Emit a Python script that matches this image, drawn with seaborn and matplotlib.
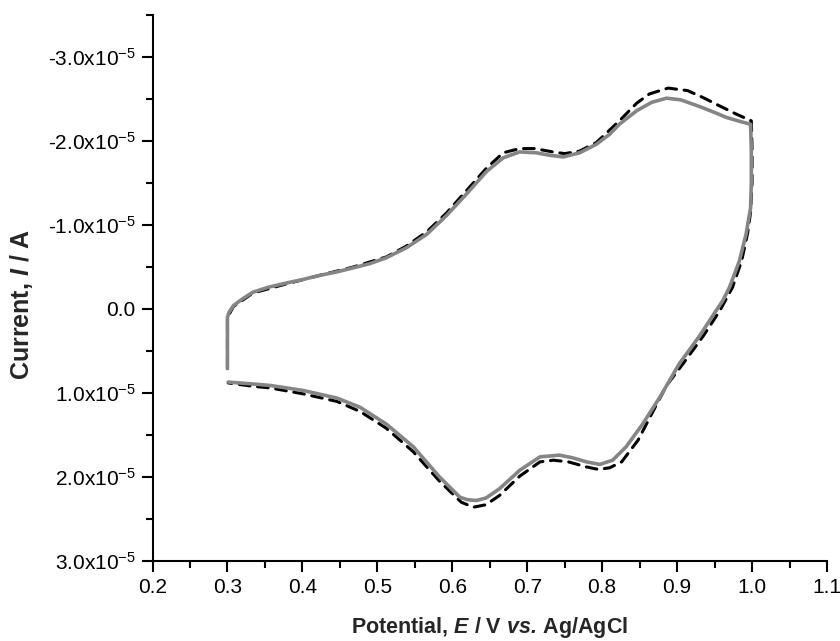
import numpy as np
import pandas as pd
import seaborn as sns
import matplotlib
matplotlib.use("Agg")
import matplotlib.pyplot as plt
from matplotlib.ticker import MultipleLocator

# ---- data (current in units of 1e-5 A) ----
gray_E = [0.300, 0.300, 0.300, 0.302, 0.308, 0.320, 0.334, 0.355, 0.379, 0.400,
          0.423, 0.445, 0.468, 0.490, 0.512, 0.539, 0.566, 0.592, 0.619, 0.646,
          0.668, 0.690, 0.712, 0.730, 0.748, 0.770, 0.792, 0.810, 0.823, 0.846,
          0.866, 0.886, 0.905, 0.930, 0.950, 0.966, 0.985, 0.998, 0.999, 0.999,
          0.998, 0.995, 0.992, 0.983, 0.970, 0.961, 0.952, 0.930, 0.917, 0.903,
          0.877, 0.854, 0.832, 0.814, 0.797, 0.779, 0.760, 0.743, 0.717, 0.690,
          0.663, 0.645, 0.632, 0.620, 0.610, 0.583, 0.548, 0.512, 0.477, 0.446,
          0.401, 0.357, 0.330, 0.301]
gray_I = [0.71, 0.40, 0.10, 0.04, -0.04, -0.12, -0.20, -0.26, -0.31, -0.35,
          -0.40, -0.44, -0.49, -0.54, -0.61, -0.73, -0.89, -1.11, -1.37, -1.64,
          -1.80, -1.87, -1.86, -1.83, -1.81, -1.86, -1.96, -2.08, -2.20, -2.36,
          -2.46, -2.51, -2.49, -2.41, -2.34, -2.28, -2.23, -2.20, -1.90, -1.50,
          -1.20, -1.05, -0.89, -0.57, -0.26, -0.10, 0.02, 0.32, 0.48, 0.65,
          1.05, 1.37, 1.64, 1.80, 1.85, 1.82, 1.77, 1.74, 1.76, 1.92,
          2.14, 2.25, 2.28, 2.27, 2.24, 2.00, 1.64, 1.37, 1.17, 1.06,
          0.97, 0.91, 0.89, 0.87]

dash_E = [0.300, 0.300, 0.308, 0.334, 0.379, 0.423, 0.468, 0.512, 0.539, 0.566,
          0.592, 0.619, 0.646, 0.668, 0.690, 0.710, 0.734, 0.750, 0.770, 0.792,
          0.823, 0.846, 0.863, 0.888, 0.914, 0.934, 0.954, 0.979, 0.999, 1.000,
          1.000, 0.998, 0.994, 0.986, 0.974, 0.957, 0.935, 0.908, 0.886, 0.866,
          0.848, 0.826, 0.810, 0.795, 0.779, 0.755, 0.735, 0.717, 0.690, 0.663,
          0.645, 0.628, 0.612, 0.583, 0.548, 0.512, 0.477, 0.446, 0.401, 0.357,
          0.334, 0.301]
dash_I = [0.70, 0.10, -0.03, -0.19, -0.30, -0.40, -0.50, -0.62, -0.75, -0.92,
          -1.14, -1.41, -1.68, -1.86, -1.91, -1.91, -1.87, -1.85, -1.88, -1.98,
          -2.24, -2.45, -2.56, -2.63, -2.60, -2.52, -2.43, -2.32, -2.24, -1.90,
          -1.50, -1.15, -0.90, -0.57, -0.26, 0.02, 0.32, 0.65, 0.91, 1.25,
          1.56, 1.82, 1.89, 1.91, 1.88, 1.82, 1.80, 1.82, 1.99, 2.22,
          2.33, 2.36, 2.30, 2.05, 1.70, 1.42, 1.22, 1.10, 1.01, 0.94,
          0.92, 0.88]

x_ticks = [0.2, 0.3, 0.4, 0.5, 0.6, 0.7, 0.8, 0.9, 1.0, 1.1]
x_ticklabels = ["0.2", "0.3", "0.4", "0.5", "0.6", "0.7", "0.8", "0.9", "1.0", "1.1"]
y_ticks = [-3.0e-5, -2.0e-5, -1.0e-5, 0.0, 1.0e-5, 2.0e-5, 3.0e-5]
y_ticklabels = [r"-3.0x10$^{-5}$", r"-2.0x10$^{-5}$", r"-1.0x10$^{-5}$", "0.0",
                r"1.0x10$^{-5}$", r"2.0x10$^{-5}$", r"3.0x10$^{-5}$"]

SCALE = 1e-5
dash_df = pd.DataFrame({"E": dash_E, "I": np.array(dash_I) * SCALE})
gray_df = pd.DataFrame({"E": gray_E, "I": np.array(gray_I) * SCALE})

sns.set_style("ticks")
plt.rcParams["font.family"] = ["Liberation Sans", "DejaVu Sans"]
plt.rcParams["mathtext.fontset"] = "custom"
plt.rcParams["mathtext.rm"] = "Liberation Sans"
plt.rcParams["mathtext.it"] = "Liberation Sans:italic"
plt.rcParams["mathtext.bf"] = "Liberation Sans:bold"
plt.rcParams["mathtext.bfit"] = "Liberation Sans:italic:bold"

fig = plt.figure(figsize=(8.4, 6.41), dpi=100)
ax = fig.add_axes([152.5 / 840, (641 - 561) / 641, (827 - 152.5) / 840, (561 - 15) / 641])

sns.lineplot(data=dash_df, x="E", y="I", sort=False, estimator=None, ax=ax,
             color="black", linewidth=2.2)
ax.lines[-1].set_linestyle((0, (3.5, 2.5)))
ax.lines[-1].set_dash_capstyle("round")
sns.lineplot(data=gray_df, x="E", y="I", sort=False, estimator=None, ax=ax,
             color="#858585", linewidth=2.6)

ax.set_xlim(0.2, 1.1)
ax.set_ylim(3.0e-5, -3.5e-5)
ax.set_xticks(x_ticks)
ax.set_xticklabels(x_ticklabels)
ax.set_yticks(y_ticks)
ax.set_yticklabels(y_ticklabels)
ax.xaxis.set_minor_locator(MultipleLocator(0.05))
ax.yaxis.set_minor_locator(MultipleLocator(0.5e-5))

for s in ["top", "right"]:
    ax.spines[s].set_visible(False)
for s in ["left", "bottom"]:
    ax.spines[s].set_linewidth(1.5)
    ax.spines[s].set_color("black")
ax.tick_params(which="major", direction="out", length=8, width=1.5, labelsize=15,
               colors="black", pad=4)
ax.tick_params(which="minor", direction="out", length=5, width=1.5, colors="black")

ax.set_xlabel(r"Potential, $\mathbfit{E}$ / V $\mathbfit{vs.}\,$Ag/AgCl",
              fontsize=15.5, fontweight="bold", va="center")
ax.set_ylabel(r"Current, $\mathbfit{I}$ / A", fontsize=18, fontweight="bold",
              va="center")
ax.xaxis.set_label_coords(0.5, -(627 - 561) / 546)
ax.yaxis.set_label_coords((22 - 152.5) / 674.5, (561 - 304) / 546)

fig.savefig("out.png", dpi=100)
